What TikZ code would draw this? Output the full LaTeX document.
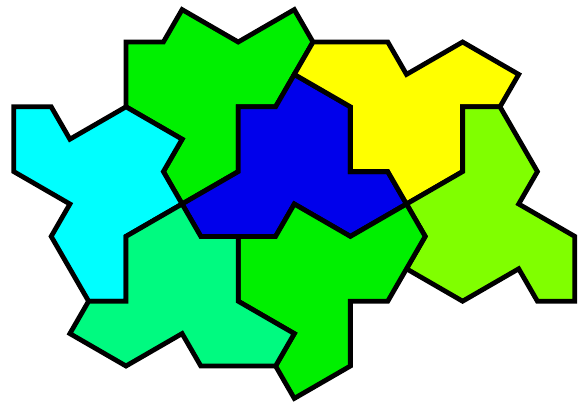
\documentclass[tikz,border=0pt]{standalone}
\begin{document}
\begin{tikzpicture}[x=18.7pt,y=-32.4pt,
  tile/.style={draw=black,line width=4.8pt,line join=miter}]
\definecolor{tgreen}{RGB}{0,240,0}
\definecolor{tcyan}{RGB}{0,255,255}
\definecolor{tblue}{RGB}{0,0,235}
\definecolor{tyellow}{RGB}{255,255,0}
\definecolor{tlime}{RGB}{128,255,0}
\definecolor{tspring}{RGB}{0,250,128}
\useasboundingbox (-126pt,-363pt) rectangle (456pt,42pt);
% top green
\filldraw[tile,fill=tgreen] (0,0)--(2,0)--(3,-1)--(6,0)--(9,-1)--(10,0)--(8,2)--(6,2)--(6,4)--(3,5)--(2,4)--(3,3)--(0,2)--cycle;
% cyan
\filldraw[tile,fill=tcyan] (-6,2)--(-4,2)--(-3,3)--(0,2)--(3,3)--(2,4)--(3,5)--(0,6)--(0,8)--(-2,8)--(-4,6)--(-3,5)--(-6,4)--cycle;
% blue
\filldraw[tile,fill=tblue] (3,5)--(6,4)--(6,2)--(8,2)--(9,1)--(12,2)--(12,4)--(14,4)--(15,5)--(12,6)--(9,5)--(8,6)--(4,6)--cycle;
% yellow
\filldraw[tile,fill=tyellow] (10,0)--(14,0)--(15,1)--(18,0)--(21,1)--(20,2)--(18,2)--(18,4)--(15,5)--(14,4)--(12,4)--(12,2)--(9,1)--cycle;
% lime
\filldraw[tile,fill=tlime] (18,2)--(20,2)--(22,4)--(21,5)--(24,6)--(24,8)--(22,8)--(21,7)--(18,8)--(15,7)--(16,6)--(15,5)--(18,4)--cycle;
% bottom green
\filldraw[tile,fill=tgreen] (9,5)--(12,6)--(15,5)--(16,6)--(14,8)--(12,8)--(12,10)--(9,11)--(8,10)--(9,9)--(6,8)--(6,6)--(8,6)--cycle;
% spring green
\filldraw[tile,fill=tspring] (3,5)--(4,6)--(6,6)--(6,8)--(9,9)--(8,10)--(4,10)--(3,9)--(0,10)--(-3,9)--(-2,8)--(0,8)--(0,6)--cycle;
\end{tikzpicture}
\end{document}
